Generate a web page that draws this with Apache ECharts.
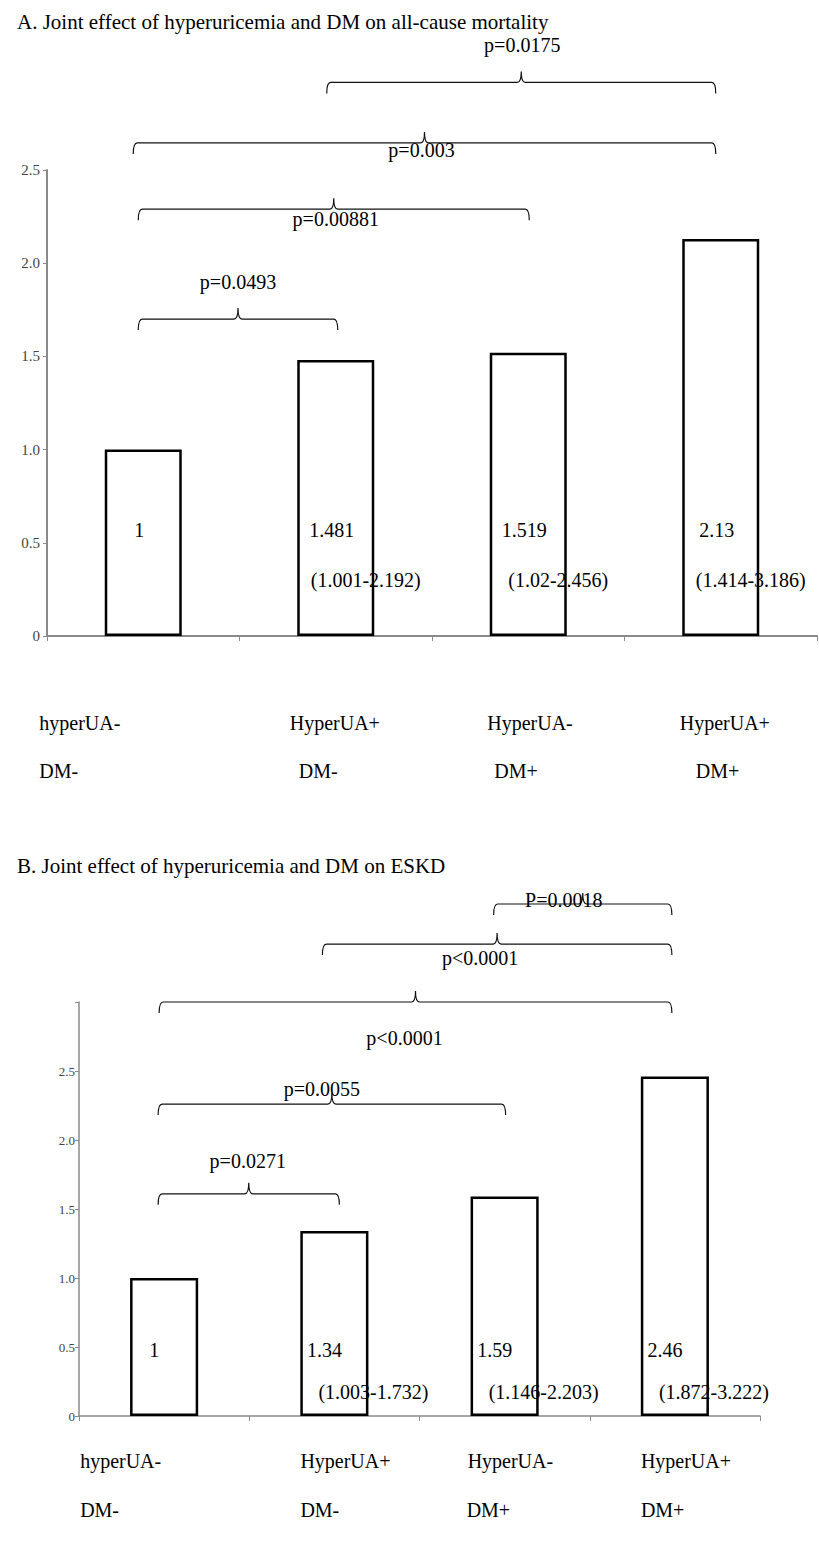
<!DOCTYPE html>
<html><head><meta charset="utf-8">
<script src="https://cdn.jsdelivr.net/npm/echarts@6/dist/echarts.min.js"></script>
<style>html,body{margin:0;padding:0;background:#fff}#c{width:819px;height:1553px}</style>
</head><body><div id="c"></div>
<script>
// ---------- data ----------
const titleA = 'A. Joint effect of hyperuricemia and DM on all-cause mortality';
const titleB = 'B. Joint effect of hyperuricemia and DM on ESKD';
const catLine1 = ['hyperUA-', 'HyperUA+', 'HyperUA-', 'HyperUA+'];
const catLine2 = ['DM-', 'DM-', 'DM+', 'DM+'];
const valuesA = [1, 1.481, 1.519, 2.13];
const ciA = ['', '(1.001-2.192)', '(1.02-2.456)', '(1.414-3.186)'];
const valuesB = [1, 1.34, 1.59, 2.46];
const ciB = ['', '(1.003-1.732)', '(1.146-2.203)', '(1.872-3.222)'];
const bracketsA = [
  {from: 0, to: 1, level: 1.70, text: 'p=0.0493'},
  {from: 0, to: 2, level: 2.29, text: 'p=0.00881'},
  {from: 0, to: 3, level: 2.645, text: 'p=0.003'},
  {from: 1, to: 3, level: 2.97, text: 'p=0.0175'}
];
const bracketsB = [
  {from: 0, to: 1, level: 1.61, text: 'p=0.0271'},
  {from: 0, to: 2, level: 2.26, text: 'p=0.0055'},
  {from: 0, to: 3, level: 3.0, text: 'p<0.0001'},
  {from: 1, to: 3, level: 3.42, text: 'p<0.0001'},
  {from: 2, to: 3, level: 3.71, text: 'P=0.0018'}
];
const yMaxA = 2.5, yMaxB = 3.0, yStep = 0.5;

// ---------- layout / style (pixels) ----------
const FONT = '"Liberation Serif", "Times New Roman", serif';
const layoutA = {
  ends: [[-5, 2], [-5, 1], [-10, -5], [-9, -5]],
  labelDx: [0, 2, -3, 1],
  labelDy: [-37, 10, 7, -37],
  cat1: [-104, -46, -41, -41], cat2: [-104, -37, -34, -25],
  catDy: [87, 135]
};
const layoutB = {
  ends: [[-6, 5], [-6, 1], [-5, -3], [-12, -3], [-11, -3]],
  labelDx: [-1, -10, -11, -17, -19],
  labelDy: [-33, -15, 36, 14, -4],
  cat1: [-84, -34, -37, -34], cat2: [-84, -34, -38, -34],
  catDy: [45, 94]
};

function bracketSeries(brackets, layout, gi) {
  return {
    type: 'custom', xAxisIndex: gi, yAxisIndex: gi, silent: true, clip: false, z: 5,
    data: brackets.map(b => [b.from, b.to, b.level]),
    encode: {x: [0, 1], y: 2},
    renderItem(params, api) {
      const i = params.dataIndex;
      const n = layout.ends[i];
      const p1 = api.coord([api.value(0), api.value(2)]);
      const p2 = api.coord([api.value(1), api.value(2)]);
      const x1 = p1[0] + n[0], x2 = p2[0] + n[1], y = p1[1];
      const m = (x1 + x2) / 2, h = 11, r = 4;
      const d = `M${x1} ${y + h} Q${x1} ${y} ${x1 + r} ${y} L${m - r} ${y} Q${m} ${y} ${m} ${y - h} Q${m} ${y} ${m + r} ${y} L${x2 - r} ${y} Q${x2} ${y} ${x2} ${y + h}`;
      return {type: 'group', children: [
        {type: 'path', shape: {pathData: d}, style: {fill: 'none', stroke: '#111', lineWidth: 1.2}},
        {type: 'text', x: m + layout.labelDx[i], y: y + layout.labelDy[i],
         style: {text: brackets[i].text, fontSize: 20, fontFamily: FONT, fill: '#000', align: 'center', verticalAlign: 'middle'}}
      ]};
    }
  };
}

function catLabelSeries(layout, gi) {
  return {
    type: 'custom', xAxisIndex: gi, yAxisIndex: gi, silent: true, clip: false, z: 5,
    data: catLine1.map((c, i) => [i, 0]),
    encode: {x: 0, y: 1},
    renderItem(params, api) {
      const i = params.dataIndex;
      const p = api.coord([api.value(0), 0]);
      return {type: 'group', children: [
        {type: 'text', x: p[0] + layout.cat1[i], y: p[1] + layout.catDy[0],
         style: {text: catLine1[i], fontSize: 20, fontFamily: FONT, fill: '#000', align: 'left', verticalAlign: 'middle'}},
        {type: 'text', x: p[0] + layout.cat2[i], y: p[1] + layout.catDy[1],
         style: {text: catLine2[i], fontSize: 20, fontFamily: FONT, fill: '#000', align: 'left', verticalAlign: 'middle'}}
      ]};
    }
  };
}

function barSeries(values, ci, gi, dist, lh, vPad, cPad) {
  return {
    type: 'bar', xAxisIndex: gi, yAxisIndex: gi, data: values, barWidth: '40%',
    itemStyle: {color: '#fff', borderColor: '#000', borderWidth: 2.5},
    label: {
      show: true, position: 'insideBottom', distance: dist, color: '#000',
      formatter: p => `{v|${values[p.dataIndex]}}\n{c|${ci[p.dataIndex] || ' '}}`,
      rich: {
        v: {fontSize: 20, fontFamily: FONT, color: '#000', lineHeight: lh, padding: vPad},
        c: {fontSize: 20, fontFamily: FONT, color: '#000', lineHeight: lh, padding: cPad}
      }
    }
  };
}

const axisGray = '#8a8a8a';
function yAxis(gi, max, fs, margin, lw) {
  return {
    gridIndex: gi, type: 'value', min: 0, max: max, interval: yStep,
    axisLine: {show: true, lineStyle: {color: axisGray, width: lw}},
    axisTick: {show: true, length: 4, lineStyle: {color: axisGray, width: 1}},
    splitLine: {show: false},
    axisLabel: {fontFamily: FONT, fontSize: fs, color: '#444', margin: margin,
      formatter: v => v === 0 ? '0' : (v > 2.5 ? '' : v.toFixed(1))}
  };
}
function xAxis(gi, lw) {
  return {
    gridIndex: gi, type: 'category', data: catLine1.map((c, i) => c + ' ' + catLine2[i]),
    axisLine: {show: true, lineStyle: {color: axisGray, width: lw}},
    axisTick: {show: true, interval: 0, length: 5, alignWithLabel: false, lineStyle: {color: axisGray, width: 1}},
    axisLabel: {show: false}, splitLine: {show: false}
  };
}

const chart = echarts.init(document.getElementById('c'), null, {renderer: 'svg'});
chart.setOption({
  animation: false,
  backgroundColor: '#fff',
  title: [
    {text: titleA, left: 12, top: 6, textStyle: {fontFamily: FONT, fontSize: 21, fontWeight: 'normal', color: '#000'}},
    {text: titleB, left: 12, top: 850, textStyle: {fontFamily: FONT, fontSize: 21, fontWeight: 'normal', color: '#000'}}
  ],
  grid: [
    {left: 47, top: 170, width: 770, height: 466},
    {left: 79, top: 1002, width: 681, height: 414}
  ],
  xAxis: [xAxis(0, 2), xAxis(1, 1.5)],
  yAxis: [yAxis(0, yMaxA, 15, 7, 2), yAxis(1, yMaxB, 13, 4, 1.5)],
  series: [
    barSeries(valuesA, ciA, 0, 31, 50, [0, 8, 0, 0], [0, 0, 0, 60]),
    barSeries(valuesB, ciB, 1, 3, 42, [0, 20, 0, 0], [0, 0, 0, 78]),
    bracketSeries(bracketsA, layoutA, 0),
    bracketSeries(bracketsB, layoutB, 1),
    catLabelSeries(layoutA, 0),
    catLabelSeries(layoutB, 1)
  ]
});
</script></body></html>
